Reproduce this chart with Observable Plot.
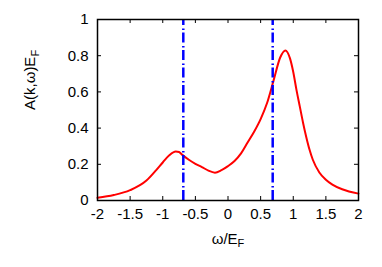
<!DOCTYPE html>
<html>
<head>
<meta charset="utf-8">
<script src="https://cdn.jsdelivr.net/npm/d3@7"></script>
<script src="https://cdn.jsdelivr.net/npm/@observablehq/plot@0.6"></script>
<style>
  html, body { margin: 0; padding: 0; background: #fff; }
  svg { font-family: "Liberation Sans", Arial, sans-serif; }
</style>
</head>
<body>
<div id="chart"></div>
<script>
const omega = [-2, -1.75, -1.5, -1.25, -1.1, -1.0, -0.9, -0.8, -0.75, -0.7, -0.6, -0.5, -0.4, -0.3, -0.2, -0.1, 0, 0.1, 0.2, 0.3, 0.4, 0.5, 0.6, 0.7, 0.8, 0.88, 0.95, 1.0, 1.05, 1.1, 1.15, 1.2, 1.25, 1.3, 1.4, 1.5, 1.6, 1.75, 2.0];
const spectral = [0.015, 0.03, 0.057, 0.11, 0.168, 0.21, 0.25, 0.271, 0.268, 0.252, 0.225, 0.203, 0.185, 0.165, 0.154, 0.168, 0.19, 0.218, 0.26, 0.32, 0.38, 0.45, 0.54, 0.665, 0.79, 0.829, 0.785, 0.71, 0.61, 0.52, 0.43, 0.35, 0.28, 0.225, 0.155, 0.115, 0.088, 0.062, 0.038];
const markers = [-0.685, 0.685];
const xTicks = [-2, -1.5, -1, -0.5, 0, 0.5, 1, 1.5, 2];
const yTicks = [0, 0.2, 0.4, 0.6, 0.8, 1];
const xTickLabels = ["-2", "-1.5", "-1", "-0.5", "0", "0.5", "1", "1.5", "2"];
const yTickLabels = ["0", "0.2", "0.4", "0.6", "0.8", "1"];

const curve = omega.map((w, i) => ({w, a: spectral[i]}));
const tx = 4 / 65.2, ty = 4 / 181;

const plot = Plot.plot({
  width: 382,
  height: 267,
  marginLeft: 97,
  marginRight: 24,
  marginTop: 19,
  marginBottom: 67,
  style: {fontFamily: "Liberation Sans, Arial, sans-serif", fontSize: "15px", background: "#fff"},
  x: {domain: [-2, 2]},
  y: {domain: [0, 1]},
  marks: [
    Plot.axisX(xTicks, {tickSize: 0, tickPadding: 8, tickFormat: (d, i) => xTickLabels[i], fontSize: 15, fill: "#000", label: null}),
    Plot.axisY(yTicks, {tickSize: 0, tickPadding: 9, tickFormat: (d, i) => yTickLabels[i], fontSize: 15, fill: "#000", label: null}),
    Plot.ruleX(xTicks, {y1: 0, y2: ty, stroke: "#000", strokeWidth: 1}),
    Plot.ruleX(xTicks, {y1: 1 - ty, y2: 1, stroke: "#000", strokeWidth: 1}),
    Plot.ruleY(yTicks, {x1: -2, x2: -2 + tx, stroke: "#000", strokeWidth: 1}),
    Plot.ruleY(yTicks, {x1: 2 - tx, x2: 2, stroke: "#000", strokeWidth: 1}),
    Plot.line(curve, {x: "w", y: "a", stroke: "#ff0000", strokeWidth: 2, curve: "monotone-x"}),
    Plot.ruleX(markers, {y1: 0, y2: 1, stroke: "#0000ff", strokeWidth: 2.5, strokeDasharray: "10,2.5,1.5,3.5"}),
    Plot.frame({stroke: "#000", strokeWidth: 1.5}),
    Plot.text(["ω/E"], {frameAnchor: "bottom", dy: 43, fontSize: 15, fill: "#000", className: "xlab"}),
    Plot.text(["A(k,ω)E"], {frameAnchor: "left", dx: -67, rotate: -90, fontSize: 15, fill: "#000", className: "ylab"})
  ]
});

// add subscripts F
for (const cls of ["xlab", "ylab"]) {
  d3.select(plot).selectAll("g." + cls + " text").each(function() {
    const t = d3.select(this);
    t.append("tspan").attr("font-size", "11px").attr("dy", "0.3em").text("F");
  });
}
document.getElementById("chart").appendChild(plot);
</script>
</body>
</html>
